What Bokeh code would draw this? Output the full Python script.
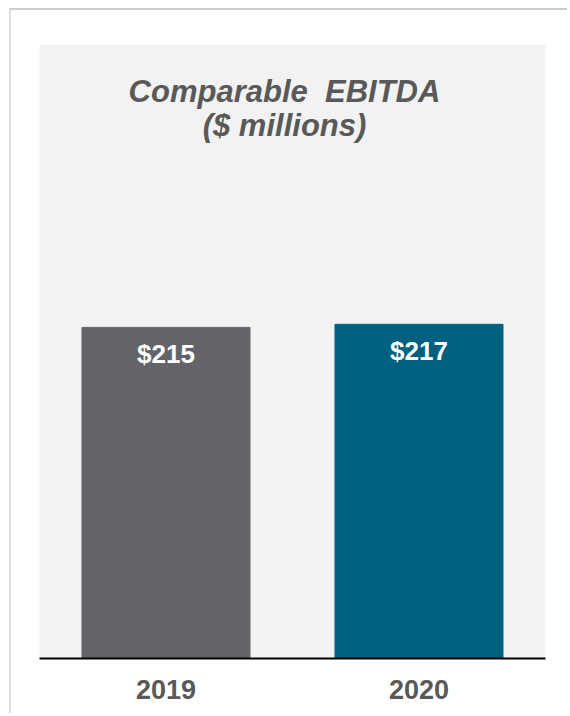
from bokeh.plotting import figure
from bokeh.models import ColumnDataSource, Range1d, Label
from bokeh.core.properties import value
from bokeh.embed import file_html
from bokeh.resources import INLINE

years = ["2019", "2020"]
ebitda = [215, 217]
labels = ["$215", "$217"]
colors = ["#636469", "#00617f"]
title_lines = ["Comparable\u00a0\u00a0EBITDA", "($ millions)"]

src = ColumnDataSource(dict(x=years, top=ebitda, lab=labels, color=colors))

p = figure(x_range=years, y_range=Range1d(0, 398.7), width=558, height=705,
           output_backend="svg", toolbar_location=None,
           min_border_left=28, min_border_right=24, min_border_top=34, min_border_bottom=57)
p.background_fill_color = "#f2f2f2"
p.border_fill_color = "white"
p.outline_line_color = None
p.xgrid.grid_line_color = None
p.ygrid.grid_line_color = None
p.yaxis.visible = False

p.vbar(x="x", top="top", width=0.664, color="color", source=src)
p.text(x="x", y="top", text="lab", source=src, text_color="white",
       text_font=value("Liberation Sans"), text_font_style="bold",
       text_font_size="26px", text_align="center", text_baseline="middle",
       y_offset=27)

for t, yy in zip(title_lines, [567, 533]):
    p.add_layout(Label(x=245, y=yy, x_units="screen", y_units="screen", text=t,
                       text_font="Liberation Sans", text_font_style="bold italic",
                       text_font_size="31px", text_color="#595959",
                       text_align="center", text_baseline="alphabetic"))

ax = p.xaxis[0]
ax.axis_line_color = "black"
ax.axis_line_width = 2
ax.major_tick_line_color = None
ax.minor_tick_line_color = None
ax.major_label_text_font = "Liberation Sans"
ax.major_label_text_font_style = "bold"
ax.major_label_text_font_size = "27px"
ax.major_label_text_color = "#595959"
ax.major_label_standoff = 15

p.styles = {"border-top": "2px solid #cccccc", "border-left": "2px solid #dddddd",
            "margin-top": "8px", "margin-left": "9px"}

open("out.html", "w").write(file_html(p, INLINE))
